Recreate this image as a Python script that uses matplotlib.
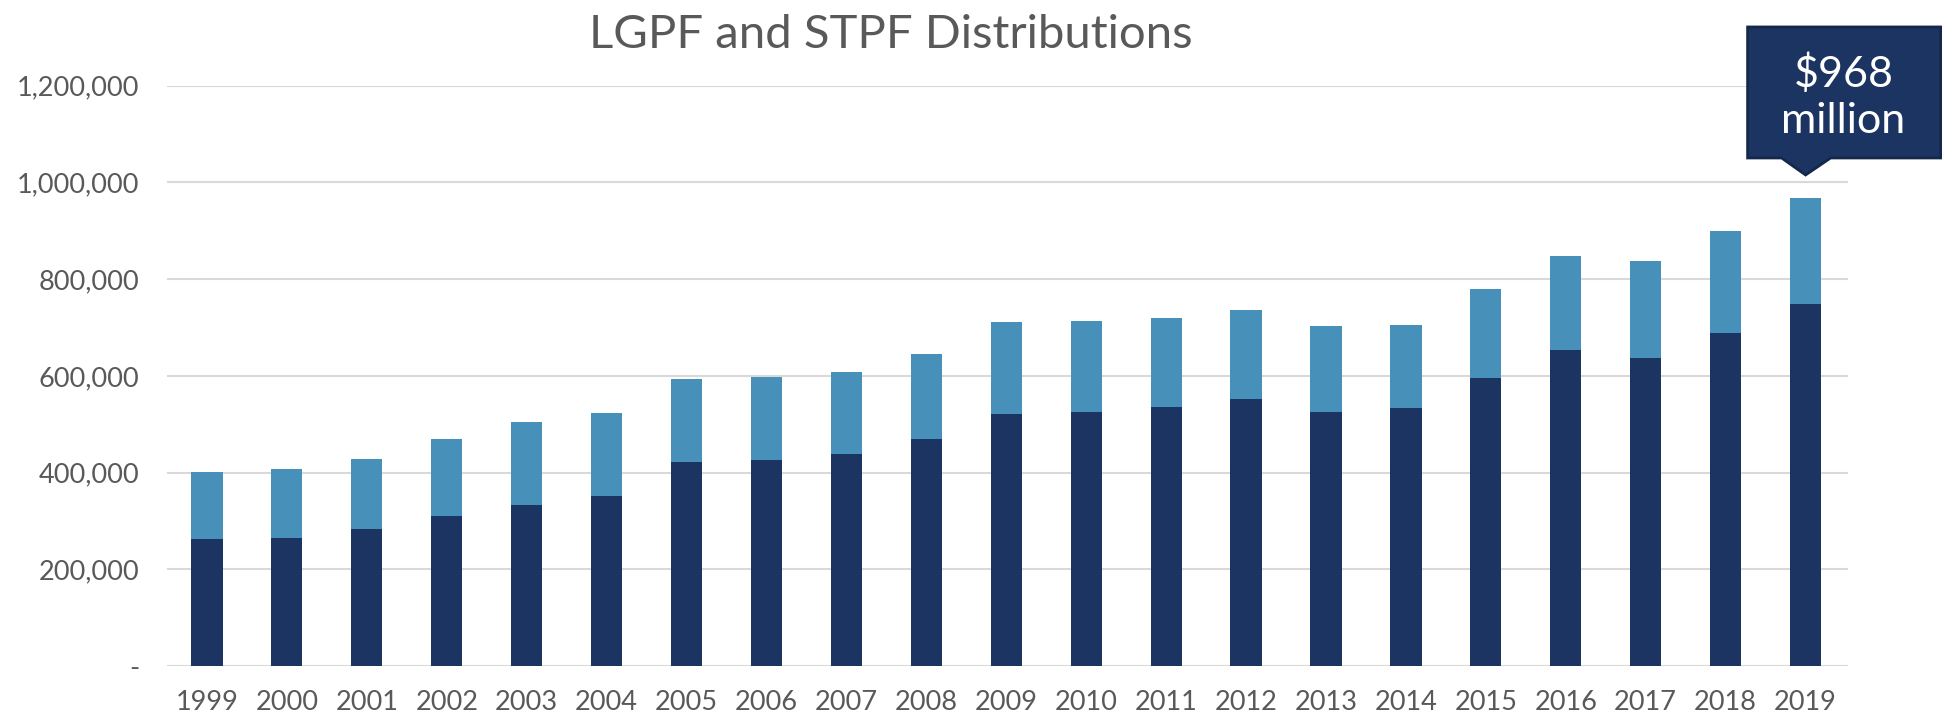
import matplotlib

matplotlib.use("Agg")
import matplotlib.pyplot as plt
import matplotlib.transforms as mtransforms
from matplotlib.patches import Polygon
from matplotlib.ticker import FuncFormatter

YEARS = [str(y) for y in range(1999, 2020)]
LGPF = [
    262600, 265300, 283300, 310900, 332400, 352000, 421500, 426000, 438500,
    469500, 521200, 525400, 535100, 553000, 525400, 534400, 595200, 653900,
    637300, 689100, 747800,
]
STPF = [
    138400, 142400, 144500, 159600, 172100, 172000, 172900, 171200, 170400,
    176700, 190800, 187200, 185100, 183100, 177500, 171300, 183700, 194800,
    201000, 210700, 220200,
]
CALLOUT = "\\$968\nmillion"

DARK = "#1b3461"
LIGHT = "#4690b9"
GREY = "#595959"

plt.rcParams["font.family"] = ["Lato", "DejaVu Sans"]

fig = plt.figure(figsize=(19.44, 7.21), dpi=100)
ax = fig.add_axes([0.0859, 0.0763, 0.8647, 0.8047])

x = range(len(YEARS))
ax.bar(x, LGPF, width=0.39, color=DARK, zorder=2)
ax.bar(x, STPF, width=0.39, bottom=LGPF, color=LIGHT, zorder=2)

ax.set_xlim(-0.5, len(YEARS) - 0.47)
ax.set_ylim(0, 1200000)
ax.set_yticks(range(0, 1200001, 200000))
ax.yaxis.set_major_formatter(
    FuncFormatter(lambda v, _: "-" if v == 0 else f"{v:,.0f}")
)
ax.set_xticks(list(x))
ax.set_xticklabels(YEARS)
ax.tick_params(axis="y", length=0, pad=20, labelsize=19.5, labelcolor=GREY)
ax.tick_params(axis="x", length=0, pad=17, labelsize=19.5, labelcolor=GREY)
ax.grid(axis="y", color="#d9d9d9", linewidth=1.5, zorder=0)
ax.set_axisbelow(True)
for s in ax.spines.values():
    s.set_visible(False)

fig.text(0.458, 0.952, "LGPF and STPF Distributions", ha="center",
         va="center", fontsize=34, color=GREY)

# callout box pointing at the last bar
last = len(YEARS) - 1
top = LGPF[last] + STPF[last]
tx, ty = ax.transData.transform((last, top))
ty += 23
shape = [(0, 0), (-24, 17), (-58, 17), (-58, 148), (135, 148), (135, 17),
         (25, 17)]
box = Polygon(shape, closed=True, facecolor=DARK, edgecolor="#14284b",
              linewidth=2,
              transform=mtransforms.Affine2D().translate(tx, ty), clip_on=False,
              zorder=5)
fig.add_artist(box)
fig.text(tx + 38, ty + 78, CALLOUT, ha="center", va="center", color="white",
         fontsize=31, linespacing=1.25, transform=None, zorder=6)

fig.savefig("out.png", dpi=100)
